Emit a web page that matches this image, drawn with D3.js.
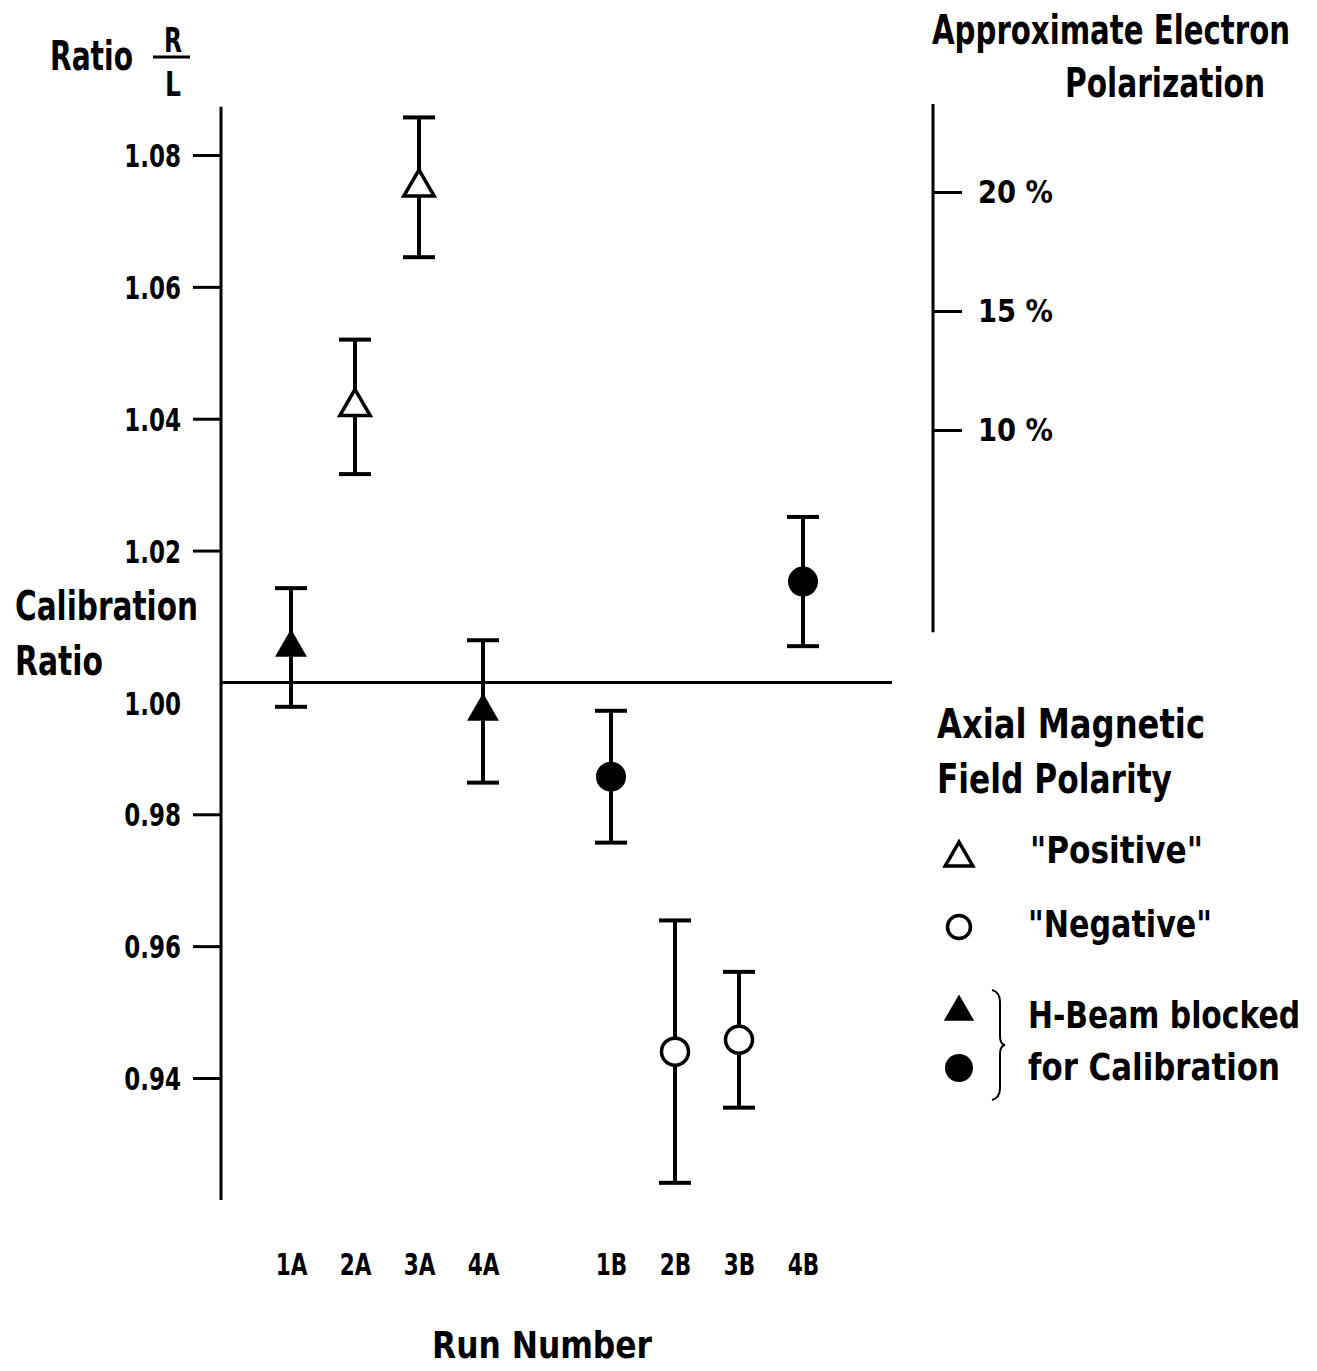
<!DOCTYPE html>
<html>
<head>
<meta charset="utf-8">
<script src="https://cdn.jsdelivr.net/npm/d3@7"></script>
<style>
  body { margin: 0; background: #fff; }
  text { font-family: "DejaVu Sans", sans-serif; font-stretch: condensed; font-weight: bold; fill: #000; }
</style>
</head>
<body>
<div id="chart"></div>
<script>
// Runs and the measured R/L ratios
const runLabels = ["1A", "2A", "3A", "4A", "1B", "2B", "3B", "4B"];
const runPos = [1, 2, 3, 4, 6, 7, 8, 9];
const ratioValues = [1.0053, 1.0418, 1.0751, 0.9956, 0.9857, 0.9440, 0.9458, 1.0153];
const ratioErrors = [0.0090, 0.0102, 0.0106, 0.0108, 0.0100, 0.0199, 0.0103, 0.0098];
const markerShapes = ["triangle", "triangle", "triangle", "triangle", "circle", "circle", "circle", "circle"];
const markerFilled = [true, false, false, true, true, false, false, true];

// Axis ticks
const ratioTicks = [0.94, 0.96, 0.98, 1.00, 1.02, 1.04, 1.06, 1.08];
const ratioExtent = [0.9215, 1.0873];
const polTicks = [10, 15, 20];
const polExtent = [1.5, 23.7];

const width = 1317, height = 1371;

const svg = d3.select("#chart").append("svg")
    .attr("width", width)
    .attr("height", height);

// squeeze text horizontally (the original lettering is very narrow)
function squeeze(sel, k) {
  sel.each(function() {
    const len = this.getComputedTextLength();
    d3.select(this).attr("textLength", len * k).attr("lengthAdjust", "spacingAndGlyphs");
  });
}

// Scales
const xScale = d3.scaleLinear().domain([1, 9]).range([291, 803]);
const yScale = d3.scaleLinear().domain([0.94, 1.08]).range([1078, 155]);
const pScale = d3.scaleLinear().domain([10, 20]).range([430, 192]);

const leftX = 221, rightX = 933;

// Left axis
const yAxis = d3.axisLeft(yScale)
    .tickValues(ratioTicks)
    .tickFormat(d3.format(".2f"))
    .tickSize(28)
    .tickPadding(12);

const gy = svg.append("g")
    .attr("transform", "translate(" + leftX + ",0)")
    .call(yAxis);
gy.select(".domain").remove();
gy.selectAll(".tick line").attr("stroke", "#000").attr("stroke-width", 3)
    .filter(d => d === 1.00).remove();
gy.selectAll(".tick text")
    .attr("font-size", 32)
    .attr("font-family", null)
    .attr("dy", d => d === 1.00 ? "1.0em" : "0.36em")
    .call(squeeze, 0.8);
svg.append("line")
    .attr("x1", leftX).attr("x2", leftX)
    .attr("y1", yScale(ratioExtent[0])).attr("y2", yScale(ratioExtent[1]))
    .attr("stroke", "#000").attr("stroke-width", 3);

// Calibration ratio = 1 line
svg.append("line")
    .attr("x1", leftX).attr("x2", 892)
    .attr("y1", yScale(1.00)).attr("y2", yScale(1.00))
    .attr("stroke", "#000").attr("stroke-width", 3);

// Right axis (polarization)
const pAxis = d3.axisRight(pScale)
    .tickValues(polTicks)
    .tickFormat(d => d + " %")
    .tickSize(29)
    .tickPadding(16);
const gp = svg.append("g")
    .attr("transform", "translate(" + rightX + ",0)")
    .call(pAxis);
gp.select(".domain").remove();
gp.selectAll(".tick line").attr("stroke", "#000").attr("stroke-width", 3);
gp.selectAll(".tick text")
    .attr("font-size", 32)
    .attr("font-family", null)
    .call(squeeze, 0.95);
svg.append("line")
    .attr("x1", rightX).attr("x2", rightX)
    .attr("y1", pScale(polExtent[0])).attr("y2", pScale(polExtent[1]))
    .attr("stroke", "#000").attr("stroke-width", 3);

// Bottom run labels (no axis line)
const xAxis = d3.axisBottom(xScale)
    .tickValues(runPos)
    .tickFormat((d, i) => runLabels[i])
    .tickSize(0)
    .tickPadding(0);
const gx = svg.append("g")
    .attr("transform", "translate(0,1254)")
    .call(xAxis);
gx.select(".domain").remove();
gx.selectAll(".tick text")
    .attr("font-size", 30)
    .attr("font-family", null)
    .call(squeeze, 0.8);

// Data
const points = runLabels.map((label, i) => ({
  label: label,
  pos: runPos[i],
  value: ratioValues[i],
  err: ratioErrors[i],
  shape: markerShapes[i],
  filled: markerFilled[i]
}));

const capHalf = 16;
const bars = svg.append("g").selectAll("g")
    .data(points)
    .enter().append("g")
    .attr("stroke", "#000")
    .attr("stroke-width", 4);
bars.append("line")
    .attr("x1", d => xScale(d.pos)).attr("x2", d => xScale(d.pos))
    .attr("y1", d => yScale(d.value - d.err)).attr("y2", d => yScale(d.value + d.err));
bars.append("line")
    .attr("x1", d => xScale(d.pos) - capHalf).attr("x2", d => xScale(d.pos) + capHalf)
    .attr("y1", d => yScale(d.value + d.err)).attr("y2", d => yScale(d.value + d.err));
bars.append("line")
    .attr("x1", d => xScale(d.pos) - capHalf).attr("x2", d => xScale(d.pos) + capHalf)
    .attr("y1", d => yScale(d.value - d.err)).attr("y2", d => yScale(d.value - d.err));

const triSymbol = d3.symbol().type(d3.symbolTriangle).size(440);
const triOpen = d3.symbol().type(d3.symbolTriangle).size(400);

svg.append("g").selectAll("path")
    .data(points)
    .enter().append("path")
    .attr("transform", d => "translate(" + xScale(d.pos) + "," + yScale(d.value) + ")")
    .attr("d", d => {
      if (d.shape === "triangle") return d.filled ? triSymbol() : triOpen();
      return d3.symbol().type(d3.symbolCircle).size(Math.PI * (d.filled ? 15 * 15 : 13.5 * 13.5))();
    })
    .attr("fill", d => d.filled ? "#000" : "#fff")
    .attr("stroke", "#000")
    .attr("stroke-width", d => d.filled ? 0 : 3.5);

// Titles, fitted to the widths of the original lettering
const txt = (x, y, s, size, w, anchor) => svg.append("text")
    .attr("x", x).attr("y", y)
    .attr("font-size", size)
    .attr("text-anchor", anchor || "start")
    .attr("textLength", w)
    .attr("lengthAdjust", "spacingAndGlyphs")
    .text(s);

txt(50, 70, "Ratio", 40, 83);
txt(164, 52, "R", 34, 18);
txt(165, 96, "L", 34, 16);
svg.append("line").attr("x1", 153).attr("x2", 190).attr("y1", 57).attr("y2", 57)
    .attr("stroke", "#000").attr("stroke-width", 3);

txt(15, 620, "Calibration", 40, 183);
txt(15, 675, "Ratio", 40, 88);

txt(1290, 44, "Approximate Electron", 40, 358, "end");
txt(1065, 97, "Polarization", 40, 200);

txt(432, 1358, "Run  Number", 38, 220);

// Legend
txt(937, 738, "Axial  Magnetic", 40, 268);
txt(937, 793, "Field  Polarity", 40, 235);

const legend = [
  { shape: "triangle", filled: false, y: 858 },
  { shape: "circle", filled: false, y: 927 },
  { shape: "triangle", filled: true, y: 1012 },
  { shape: "circle", filled: true, y: 1068 }
];
svg.append("g").selectAll("path")
    .data(legend)
    .enter().append("path")
    .attr("transform", d => "translate(959," + d.y + ")")
    .attr("d", d => d.shape === "triangle" ? d3.symbol().type(d3.symbolTriangle).size(d.filled ? 400 : 330)()
                                            : d3.symbol().type(d3.symbolCircle).size(Math.PI * (d.filled ? 14 * 14 : 11.5 * 11.5))())
    .attr("fill", d => d.filled ? "#000" : "#fff")
    .attr("stroke", "#000")
    .attr("stroke-width", d => d.filled ? 0 : 3.5);

txt(1030, 863, "\"Positive\"", 38, 173);
txt(1028, 937, "\"Negative\"", 38, 184);
txt(1300, 1028, "H-Beam  blocked", 38, 272, "end");
txt(1028, 1080, "for  Calibration", 38, 252);

// Brace
svg.append("path")
    .attr("d", "M992,990 Q1000,992 1000,1002 L1000,1036 Q1000,1044 1005,1045 Q1000,1046 1000,1054 L1000,1088 Q1000,1098 992,1100")
    .attr("fill", "none")
    .attr("stroke", "#000")
    .attr("stroke-width", 2);
</script>
</body>
</html>
